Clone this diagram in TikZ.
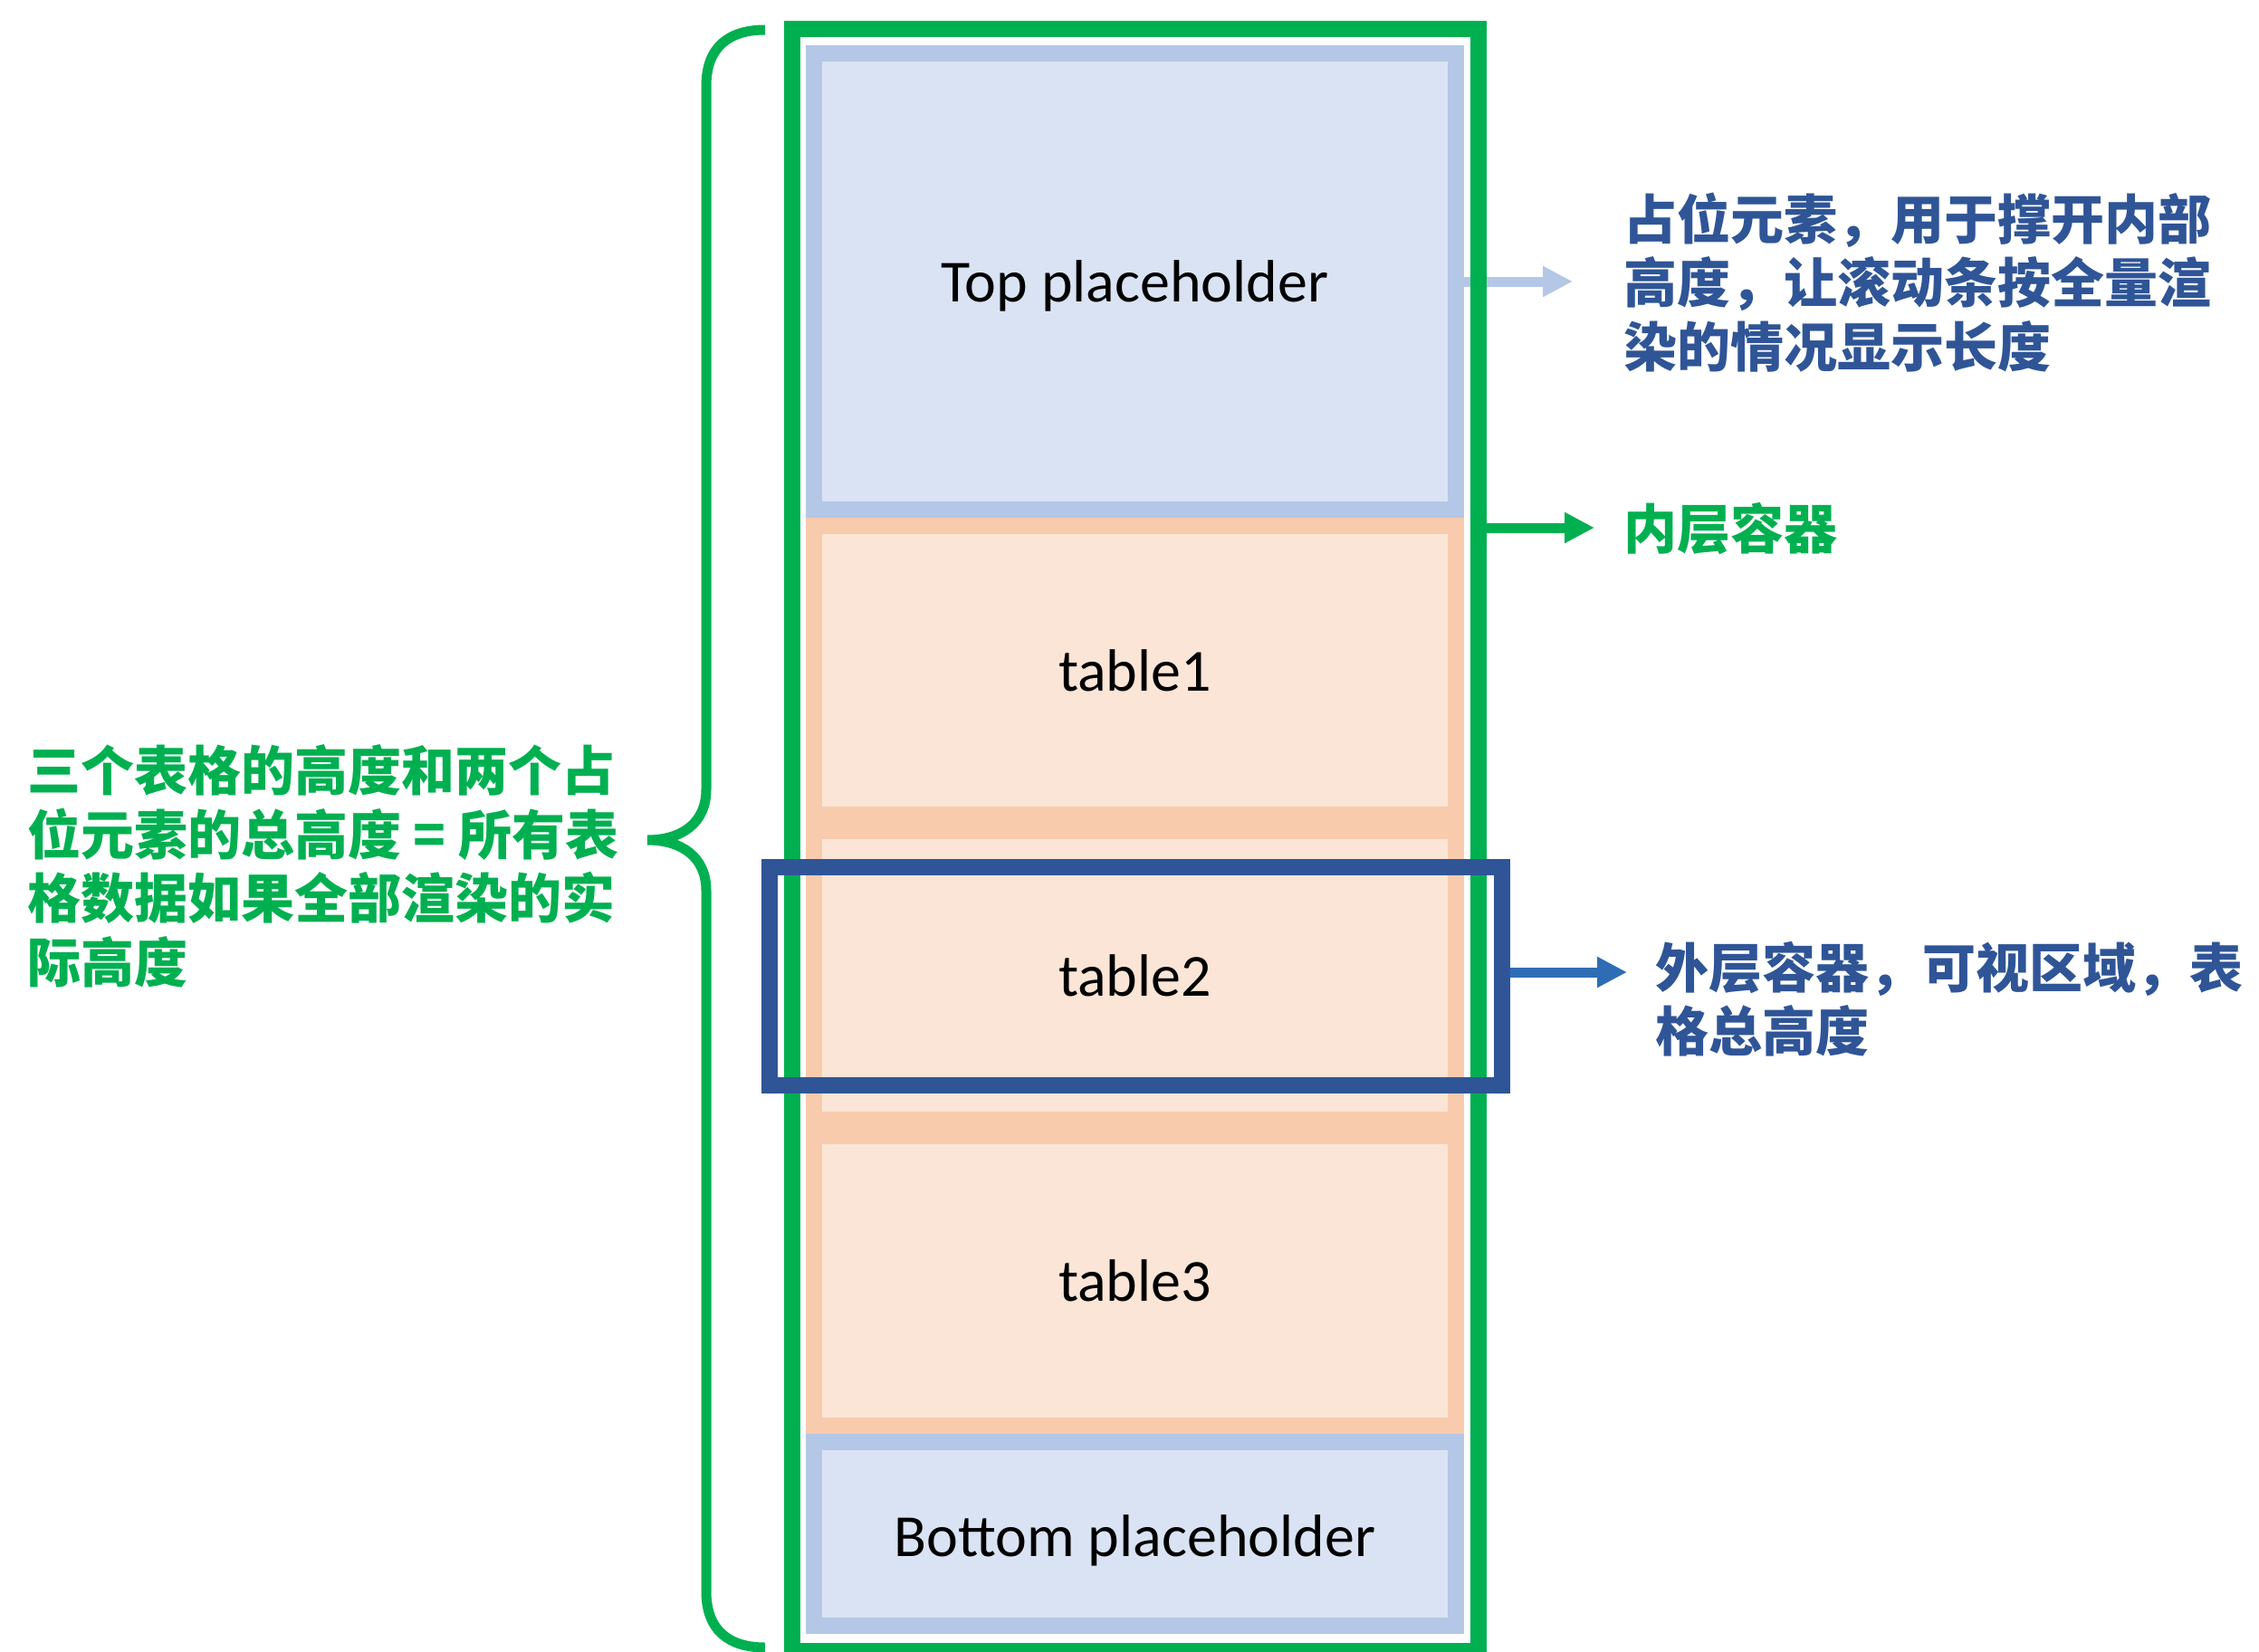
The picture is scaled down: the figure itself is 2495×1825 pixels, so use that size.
\documentclass[tikz,border=0pt]{standalone}
\usepackage{fontspec}
\setmainfont{Carlito}
\newfontfamily\cjk{Noto Sans CJK SC}
\usetikzlibrary{arrows.meta,calc}
\definecolor{pgreen}{HTML}{00B050}
\definecolor{dblue}{HTML}{2F5597}
\definecolor{ablue}{HTML}{2E6DB4}
\definecolor{tblue}{HTML}{2F5597}
\definecolor{phB}{HTML}{B4C7E7}
\definecolor{phF}{HTML}{DAE3F3}
\definecolor{tbB}{HTML}{F8CBAD}
\definecolor{tbF}{HTML}{FBE5D6}
\tikzset{
  block/.style={draw, line width=18pt, minimum width=709pt, inner sep=0pt,
    font=\fontsize{66}{79}\selectfont, text=black},
  phold/.style={block, draw=phB, fill=phF},
  tbl/.style={block, draw=tbB, fill=tbF},
  frame/.style={draw, line width=18pt, inner sep=0pt},
  arr/.style={line width=11pt, -{Triangle[length=33pt,width=32pt]}},
  note/.style={inner sep=0pt, anchor=west, align=left,
    font=\cjk\bfseries\fontsize{59}{70.5}\selectfont}
}
\begin{document}
\begin{tikzpicture}[x=1pt,y=-1pt]
\useasboundingbox (0,0) rectangle (2495,1825);
\fill[white] (0,0) rectangle (2495,1825);

% blocks
\node[phold, minimum height=504pt] (top) at (1253.5,311) {\raisebox{-22.5pt}[0pt][0pt]{Top placeholder}};
\node[tbl, minimum height=319pt] (t1) at (1253.5,740.5) {table1};
\node[tbl, minimum height=319pt] (t2) at (1253.5,1077.5) {table2};
\node[tbl, minimum height=320pt] (t3) at (1253.5,1415) {table3};
\node[phold, minimum height=203pt] (bot) at (1253.5,1694.5) {\raisebox{-24.5pt}[0pt][0pt]{Bottom placeholder}};

% arrow from top placeholder
\coordinate (la) at (1737,311);
\draw[arr, draw=phB, fill=phB] (top.east) -- (la);

% inner container (green)
\node[frame, draw=pgreen, minimum width=758pt, minimum height=1792pt] (inner) at (1254,928) {};
\coordinate (ga) at (1761,583);
\draw[arr, draw=pgreen, fill=pgreen] (inner.east |- ga) -- (ga);

% outer container (dark blue)
\node[frame, draw=dblue, minimum width=809pt, minimum height=241pt] (outer) at (1254.5,1078.5) {};
\coordinate (ba) at (1797,1074);
\draw[arr, draw=ablue, fill=ablue] (outer.east |- ba) -- (ba);

% brace
\draw[pgreen, line width=11pt]
  (845,33) .. controls (805,33) and (780,52) .. (780,95)
  -- (780,872) .. controls (780,910) and (752,928) .. (715,928)
  .. controls (752,928) and (780,946) .. (780,984)
  -- (780,1758) .. controls (780,1801) and (805,1820) .. (845,1820);

% texts
\node[note, text=tblue] (n1) at (1793,312)
  {占位元素，用于撑开内部\\高度，让滚动条按全量渲\\染的情况显示长度};
\node[note, text=pgreen] (n2) at (1793,584) {内层容器};
\node[note, text=tblue] (n3) at (1828,1103.5)
  {外层容器，可视区域，表\\格总高度};
\node[note, text=pgreen] (n4) at (30,957)
  {三个表格的高度和两个占\\位元素的总高度 = 所有表\\格数据如果全部渲染的实\\际高度};
\end{tikzpicture}
\end{document}
